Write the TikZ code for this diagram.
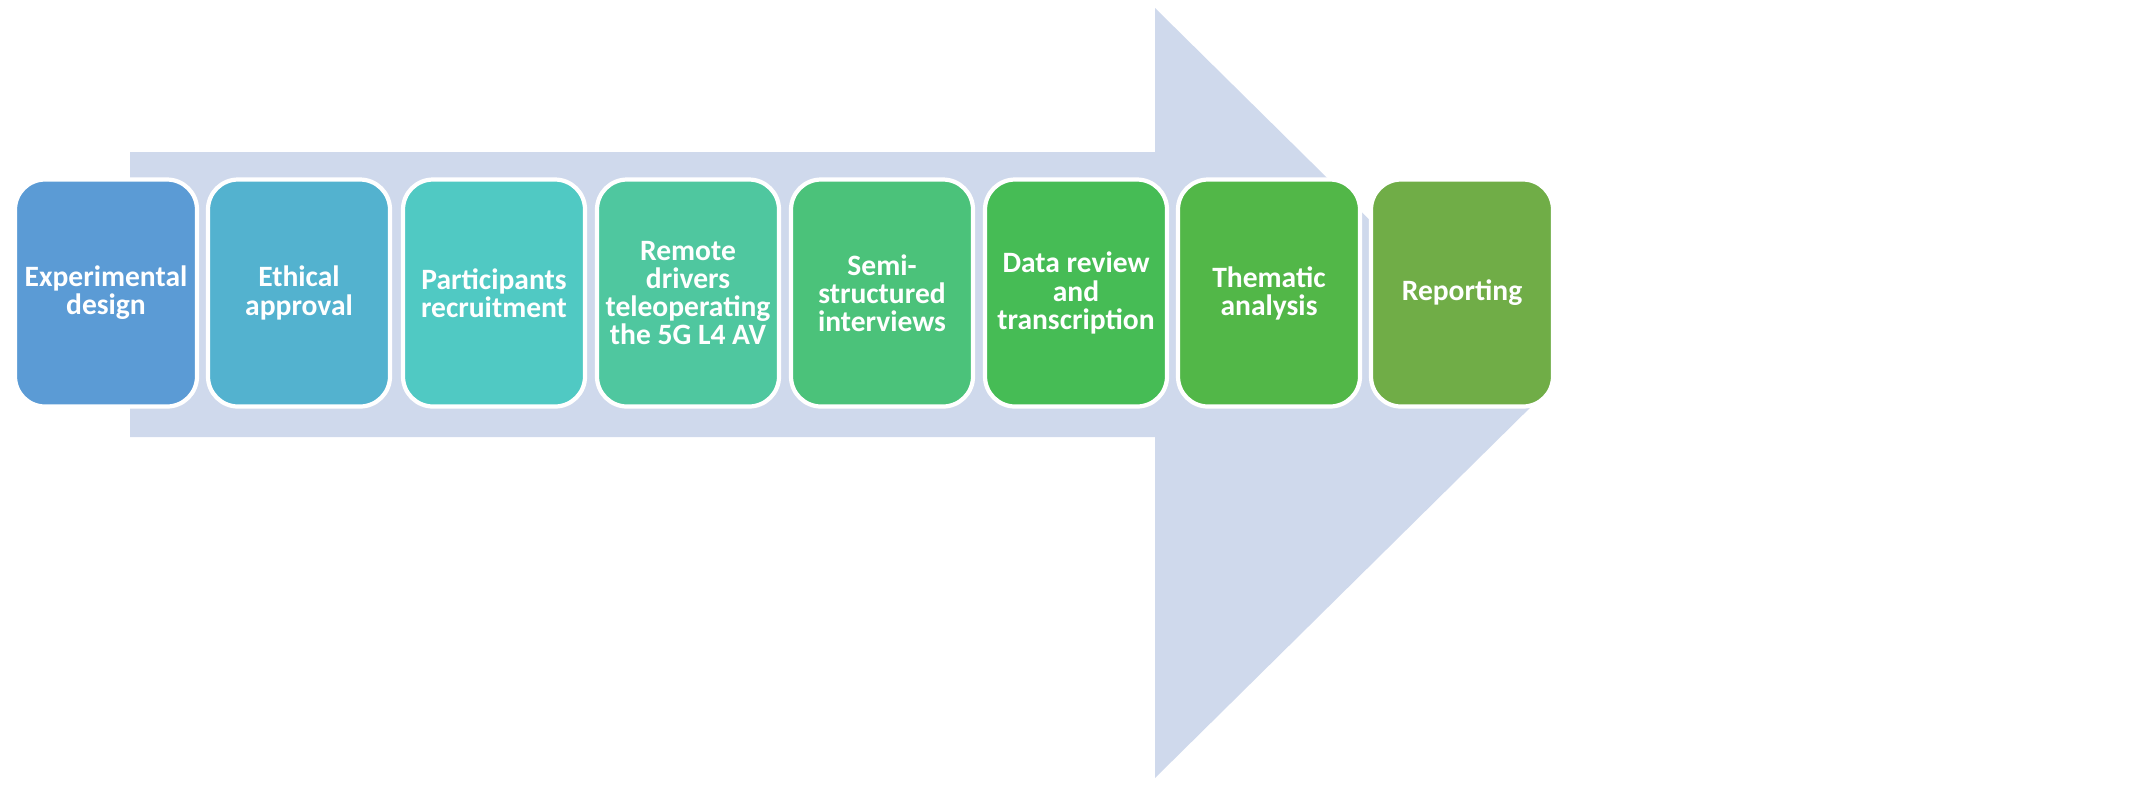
\documentclass[tikz,border=0pt]{standalone}
\usepackage{fontspec}
\setmainfont{Carlito}
\begin{document}
\begin{tikzpicture}[x=0.01cm,y=-0.01cm,
  stage/.style={draw=white,line width=1.2pt,rounded corners=0.3cm,minimum width=182*0.01cm,minimum height=227*0.01cm,
    text=white,font=\bfseries\fontsize{8.4}{8.0}\selectfont,align=center,inner sep=0pt}]
\useasboundingbox (0,0) rectangle (2133,802);
\fill[fill={rgb,255:red,207;green,217;blue,236}] (130,152) -- (1155,152) -- (1155,8) -- (1545,393) -- (1155,778) -- (1155,437) -- (130,437) -- cycle;
\definecolor{c1}{HTML}{5B9BD5}\definecolor{c2}{HTML}{53B2CF}\definecolor{c3}{HTML}{50C9C3}
\definecolor{c4}{HTML}{4FC79F}\definecolor{c5}{HTML}{4BC27A}\definecolor{c6}{HTML}{46BC55}
\definecolor{c7}{HTML}{52B748}\definecolor{c8}{HTML}{70AD47}
\node[stage,fill=c1] (s1) at (106,293) {Experimental\\design};
\node[stage,fill=c2] (s2) at (299,293) {Ethical\\approval};
\node[stage,fill=c3] (s3) at (494,293) {Participants\\recruitment};
\node[stage,fill=c4] (s4) at (688,293) {Remote\\drivers\\teleoperating\\the 5G L4 AV};
\node[stage,fill=c5] (s5) at (882,293) {Semi-\\structured\\interviews};
\node[stage,fill=c6] (s6) at (1076,293) {Data review\\and\\transcription};
\node[stage,fill=c7] (s7) at (1269,293) {Thematic\\analysis};
\node[stage,fill=c8] (s8) at (1462,293) {Reporting};
\end{tikzpicture}
\end{document}
